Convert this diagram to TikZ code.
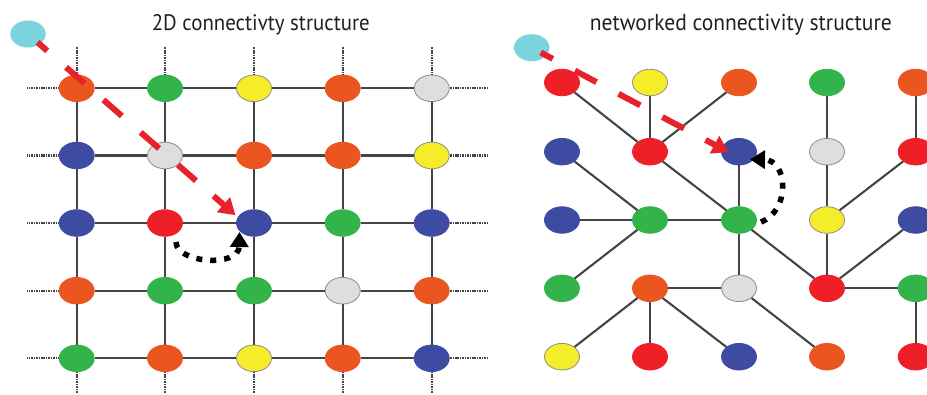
\documentclass[tikz,border=0pt]{standalone}
\usepackage{fontspec}
\setmainfont{PT Sans}
\usepackage{graphicx}
\usetikzlibrary{shapes.geometric,arrows.meta}
\definecolor{orF}{HTML}{EB5520}\colorlet{orD}{orF}
\definecolor{grF}{HTML}{32B44A}\colorlet{grD}{grF}
\definecolor{yeF}{HTML}{F5EC2A}\definecolor{yeD}{HTML}{8C8C8C}
\definecolor{lgF}{HTML}{DEDEDE}\definecolor{lgD}{HTML}{8C8C8C}
\definecolor{blF}{HTML}{3E4BA3}\colorlet{blD}{blF}
\definecolor{rdF}{HTML}{EE1F27}\colorlet{rdD}{rdF}
\definecolor{cyF}{HTML}{7AD3DF}
\definecolor{lnC}{HTML}{444444}
\definecolor{hopC}{HTML}{E8222B}
\definecolor{txtC}{HTML}{231F20}
\begin{document}
\begin{tikzpicture}[x=1pt,y=-1pt,
  dot/.style={ellipse,minimum width=35pt,minimum height=26.6pt,inner sep=0pt,line width=0.8pt},
  src/.style={ellipse,minimum width=35.5pt,minimum height=27pt,inner sep=0pt,fill=cyF},
  link/.style={draw=lnC,line width=2.1pt},
  ext/.style={draw=lnC,line width=2.1pt,dash pattern=on 1.1pt off 0.6pt},
  hop/.style={draw=hopC,line width=6pt,dash pattern=on 24.5pt off 25pt},
  hophead/.style={draw=hopC,line width=6pt,-{Triangle[length=16pt,width=19pt]}},
  loopc/.style={draw=black,line width=5.5pt,dash pattern=on 6pt off 8pt,-{Triangle[length=15pt,width=18pt]}},
  title/.style={anchor=base,text=txtC,inner sep=0pt}]
\clip (0,0) rectangle (927,394);

% ---------- titles
\node[title] (t1) at (260.8,30.7) {\resizebox{218pt}{16pt}{2D connectivty structure}};
\node[title] (t2) at (740.8,30.7) {\resizebox{302pt}{16.3pt}{networked connectivity structure}};

% ---------- left grid positions
\foreach \y [count=\r] in {88.3,155.5,223,290.7,358.3}{
  \foreach \x [count=\c] in {76.7,165,254,342.7,431.7}{
    \coordinate (LP-\r-\c) at (\x,\y);}
  \coordinate (LW-\r) at (27,\y);
  \coordinate (LE-\r) at (488,\y);}
\foreach \x [count=\c] in {76.7,165,254,342.7,431.7}{
  \coordinate (LN-\c) at (\x,47);
  \coordinate (LS-\c) at (\x,393);}

% ---------- left nodes
\foreach \r/\cl in {1/{or,gr,ye,or,lg},2/{bl,lg,or,or,ye},3/{bl,rd,bl,gr,bl},4/{or,gr,gr,lg,or},5/{gr,or,ye,or,bl}}{
  \foreach \s [count=\c] in \cl {\node[dot,fill=\s F,draw=\s D] (L-\r-\c) at (LP-\r-\c) {};}}

% ---------- left grid links
\foreach \r in {1,...,5}{
  \foreach \c [evaluate=\c as \n using int(\c+1)] in {1,...,4}{
    \draw[link] (L-\r-\c) -- (L-\r-\n);}
  \draw[ext] (L-\r-1) -- (LW-\r);
  \draw[ext] (L-\r-5) -- (LE-\r);}
\foreach \c in {1,...,5}{
  \foreach \r [evaluate=\r as \n using int(\r+1)] in {1,...,4}{
    \draw[link] (L-\r-\c) -- (L-\n-\c);}
  \draw[ext] (L-1-\c) -- (LN-\c);
  \draw[ext] (L-5-\c) -- (LS-\c);}

% ---------- right positions and nodes
\foreach \y [count=\r] in {82.5,151.7,220,288.3,356.7}{
  \foreach \x [count=\c] in {562,650,739,827,915.7}{
    \coordinate (RP-\r-\c) at (\x,\y);}}
\foreach \r/\cl in {1/{rd,ye,or,gr,or},2/{bl,rd,bl,lg,rd},3/{bl,gr,gr,ye,bl},4/{gr,or,lg,rd,gr},5/{ye,rd,bl,or,rd}}{
  \foreach \s [count=\c] in \cl {\node[dot,fill=\s F,draw=\s D] (R-\r-\c) at (RP-\r-\c) {};}}

% ---------- right links
\foreach \a/\b in {1-1/2-2,1-2/2-2,1-3/2-2,1-4/2-4,1-5/2-5,
  2-1/3-2,2-2/3-3,2-3/3-3,2-4/3-4,2-5/3-4,
  3-1/3-2,3-2/3-3,3-2/4-1,3-3/4-3,3-3/4-4,3-4/4-4,3-5/4-4,
  4-2/4-3,4-4/4-5,4-2/5-1,4-2/5-2,4-2/5-3,4-3/5-4,4-5/5-5}{
  \draw[link] (R-\a) -- (R-\b);}

% ---------- sources
\node[src] (lcy) at (28,34) {};
\node[src] (rcy) at (531.7,47.7) {};

% ---------- red hops
\coordinate (lra) at (196,180.7);
\coordinate (lrb) at (213.5,195.9);
\coordinate (lrt) at (235.5,215.2);
\draw[hop,dash phase=11.6pt,shorten <=-3pt] (lcy) -- (lra);
\draw[hophead] (lrb) -- (lrt);

\coordinate (rra) at (684.1,128.6);
\coordinate (rrb) at (705.5,139.9);
\coordinate (rrt) at (728.6,152.2);
\draw[hop,dash phase=10.9pt,shorten <=-6.4pt] (rcy) -- (rra);
\draw[hophead] (rrb) -- (rrt);

% ---------- black loops
\coordinate (lla) at (176,242);
\coordinate (llb) at (239.5,232);
\draw[loopc] (lla) .. controls (176,263) and (239,268) .. (llb);

\coordinate (rla) at (761,222);
\coordinate (rlb) at (750,159.3);
\draw[loopc] (rla) .. controls (791,210) and (788,160) .. (rlb);
\end{tikzpicture}
\end{document}
